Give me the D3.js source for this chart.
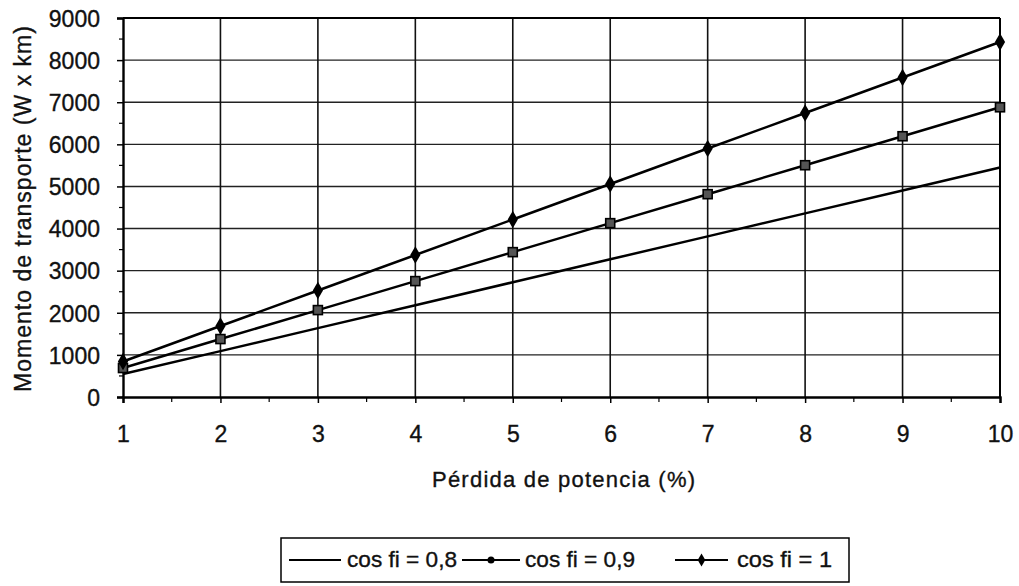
<!DOCTYPE html>
<html><head><meta charset="utf-8">
<script src="https://cdn.jsdelivr.net/npm/d3@7"></script>
<style>body{margin:0;background:#fff}svg{display:block}text{font-family:"Liberation Sans",Arial,sans-serif;fill:#111;stroke:#111;stroke-width:0.35px}</style>
</head><body>
<script>
const categories = [1,2,3,4,5,6,7,8,9,10];
const cos08 = [545,1090,1635,2180,2725,3270,3815,4360,4905,5450];
const cos09 = [688,1376,2064,2752,3440,4128,4816,5504,6192,6880];
const cos10 = [843,1686,2529,3372,4215,5058,5901,6744,7587,8430];
const yTicks = [0,1000,2000,3000,4000,5000,6000,7000,8000,9000];
const seriesNames = ["cos fi = 0,8","cos fi = 0,9","cos fi = 1"];
const xTitle = "Pérdida de potencia (%)";
const yTitle = "Momento de transporte (W x km)";

const W=1019,H=586;
const m={left:123,right:1000,top:18,bottom:397};
const svg=d3.select("body").append("svg").attr("width",W).attr("height",H);
const x=d3.scaleLinear().domain([1,10]).range([m.left,m.right]);
const y=d3.scaleLinear().domain([0,9000]).range([m.bottom,m.top]);

// grid
const g=svg.append("g");
g.selectAll(".hg").data(yTicks.slice(1)).join("line")
 .attr("x1",m.left).attr("x2",m.right).attr("y1",d=>y(d)).attr("y2",d=>y(d))
 .attr("stroke","#222").attr("stroke-width",1.4);
g.selectAll(".vg").data(categories.slice(1)).join("line")
 .attr("y1",m.top).attr("y2",m.bottom).attr("x1",d=>x(d)).attr("x2",d=>x(d))
 .attr("stroke","#111").attr("stroke-width",1.6);
// border
svg.append("line").attr("x1",m.left).attr("x2",m.right).attr("y1",m.top).attr("y2",m.top).attr("stroke","#000").attr("stroke-width",2);
svg.append("line").attr("x1",m.right).attr("x2",m.right).attr("y1",m.top).attr("y2",m.bottom).attr("stroke","#000").attr("stroke-width",2);

// axes
const yAxis=d3.axisLeft(y).tickValues(yTicks).tickFormat(d3.format("d")).tickSize(6).tickPadding(17);
const ya=svg.append("g").attr("transform",`translate(${m.left},0)`).call(yAxis);
ya.select(".domain").attr("stroke","#000").attr("stroke-width",2.4);
ya.selectAll(".tick line").attr("stroke","#000").attr("stroke-width",1.5);
ya.selectAll("text").style("font-size","23px").attr("fill","#111").attr("dy","0.36em").style("font-family","Liberation Sans, Arial, sans-serif");
const yMinor=d3.range(0,9000,1000).map(v=>v+500);
svg.append("g").selectAll("line").data(yMinor).join("line")
 .attr("x1",m.left-4).attr("x2",m.left).attr("y1",d=>y(d)).attr("y2",d=>y(d)).attr("stroke","#000").attr("stroke-width",1.2);

const xAxis=d3.axisBottom(x).tickValues(categories).tickFormat(d3.format("d")).tickSize(6).tickPadding(23);
const xa=svg.append("g").attr("transform",`translate(0,${m.bottom})`).call(xAxis);
xa.select(".domain").attr("stroke","#000").attr("stroke-width",2.4);
xa.selectAll(".tick line").attr("stroke","#000").attr("stroke-width",1.5);
xa.selectAll("text").style("font-size","23px").attr("fill","#111").style("font-family","Liberation Sans, Arial, sans-serif");
const xMinor=categories.slice(0,-1).map(v=>v+0.5);
svg.append("g").selectAll("line").data(xMinor).join("line")
 .attr("x1",d=>x(d)).attr("x2",d=>x(d)).attr("y1",m.bottom).attr("y2",m.bottom+5).attr("stroke","#000").attr("stroke-width",1.2);

// titles
svg.append("text").attr("x",(432+695)/2).attr("y",487).attr("text-anchor","middle")
 .style("font-size","22px").attr("textLength",263).attr("lengthAdjust","spacing").text(xTitle);
svg.append("text").attr("transform","translate(31,209) rotate(-90)").attr("text-anchor","middle")
 .style("font-size","23px").attr("textLength",366).attr("lengthAdjust","spacing").text(yTitle);

// lines
const line=d3.line().x((d,i)=>x(categories[i])).y(d=>y(d));
const allSeries=[cos08,cos09,cos10];
allSeries.forEach(s=>{
  svg.append("path").datum(s).attr("d",line).attr("fill","none").attr("stroke","#000").attr("stroke-width",2.5);
});
const diamond=d3.symbol().type(d3.symbolDiamond).size(90);
svg.append("g").selectAll("rect").data(cos09).join("rect")
 .attr("x",(d,i)=>x(categories[i])-4.5).attr("y",d=>y(d)-4.5).attr("width",9).attr("height",9)
 .attr("fill","#555").attr("stroke","#000").attr("stroke-width",1.6);
svg.append("g").selectAll("path").data(cos10).join("path")
 .attr("d",diamond).attr("transform",(d,i)=>`translate(${x(categories[i])},${y(d)})`).attr("fill","#000");

// legend
const lg=svg.append("g");
lg.append("rect").attr("x",281).attr("y",538).attr("width",568).attr("height",44).attr("fill","#fff").attr("stroke","#000").attr("stroke-width",1.5);
const items=[{x1:289,x2:341,tx:347,mk:null},{x1:462,x2:520,tx:525,mk:"sq"},{x1:675,x2:728,tx:737,mk:"dia"}];
items.forEach((it,i)=>{
  lg.append("line").attr("x1",it.x1).attr("x2",it.x2).attr("y1",560).attr("y2",560).attr("stroke","#000").attr("stroke-width",2.2);
  const cx=(it.x1+it.x2)/2;
  if(it.mk==="sq") lg.append("circle").attr("cx",cx).attr("cy",560).attr("r",3.5).attr("fill","#000");
  if(it.mk==="dia") lg.append("path").attr("d",d3.symbol().type(d3.symbolDiamond).size(50)).attr("transform",`translate(${cx},560)`).attr("fill","#000");
  lg.append("text").attr("x",it.tx).attr("y",567).style("font-size","22px").attr("textLength",i===2?95:110).attr("lengthAdjust","spacingAndGlyphs").text(seriesNames[i]);
});
</script>
</body></html>
